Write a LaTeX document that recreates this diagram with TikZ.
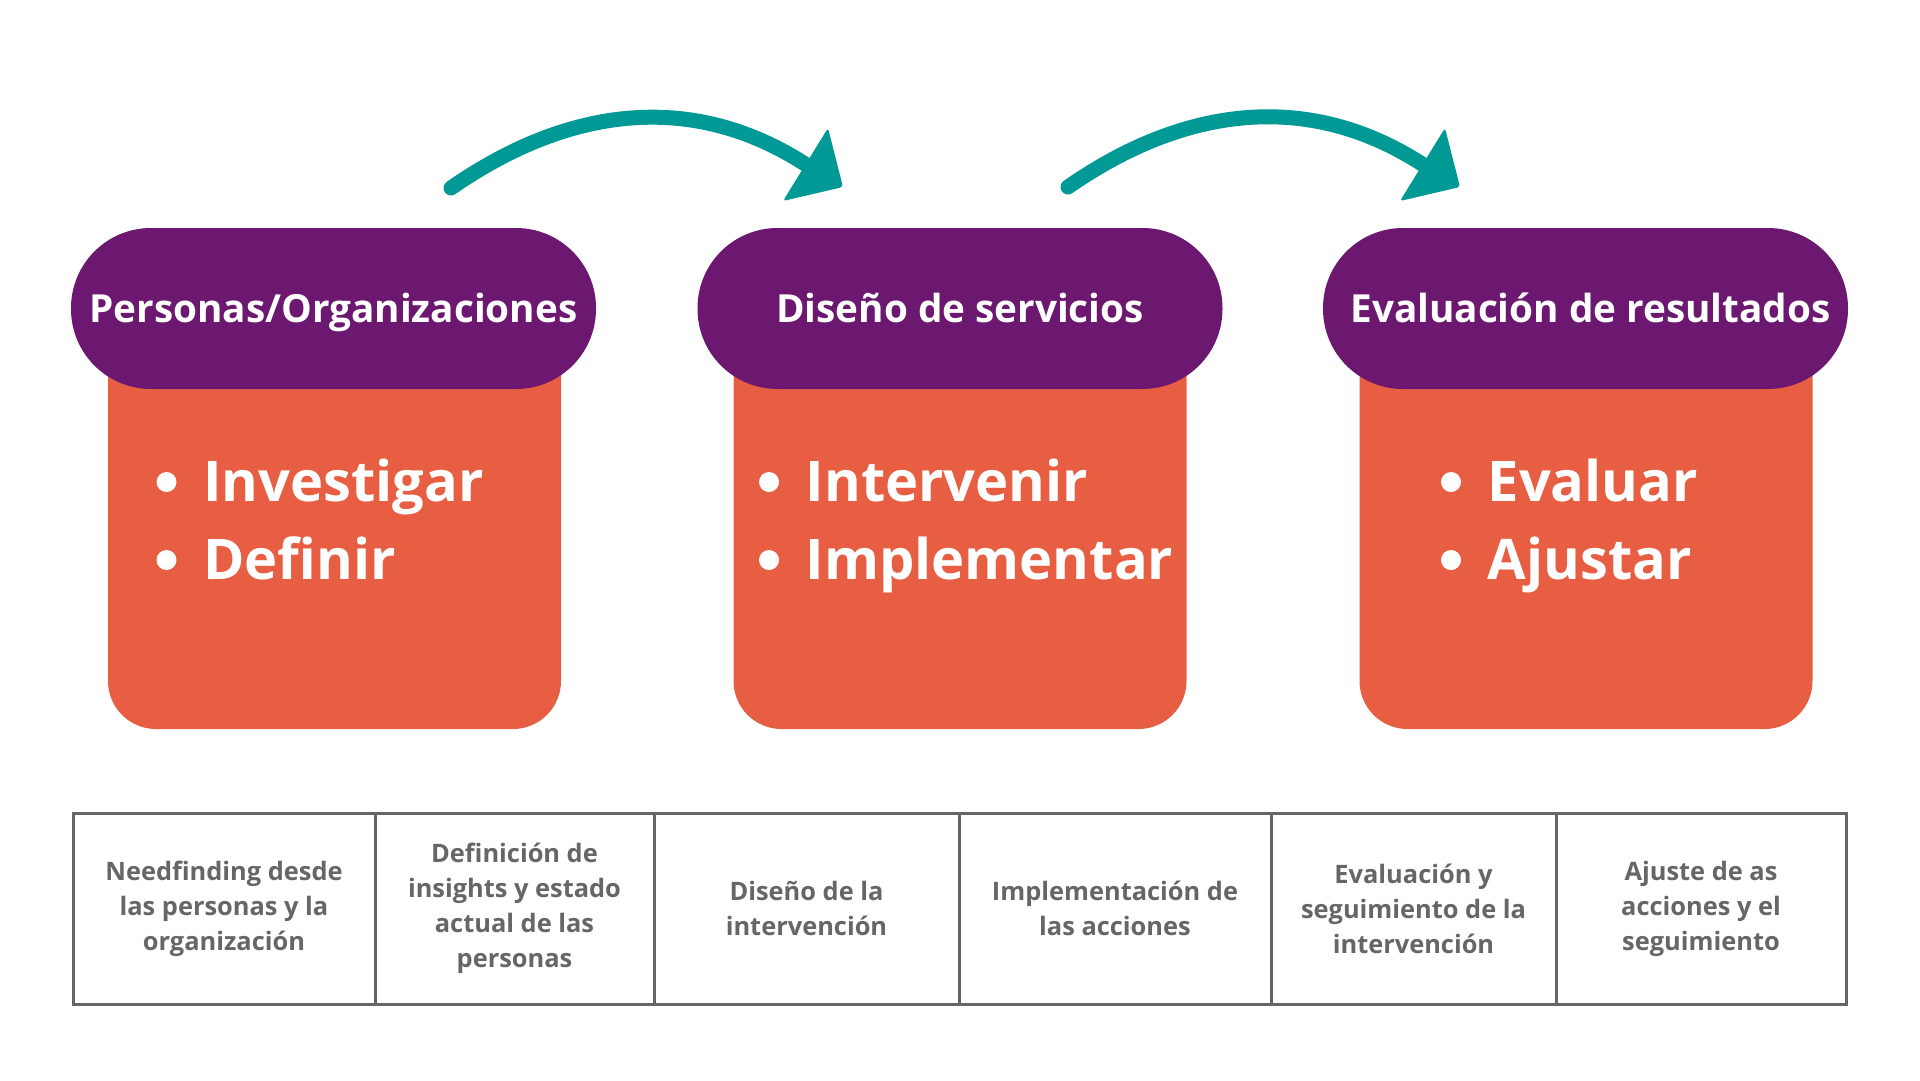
\documentclass[tikz,border=0pt]{standalone}
\usepackage{fontspec}
\setmainfont{Open Sans}
\definecolor{purp}{RGB}{108,23,112}
\definecolor{oran}{RGB}{232,94,66}
\definecolor{tealc}{RGB}{0,153,150}
\definecolor{grayc}{RGB}{102,102,102}
\begin{document}
\begin{tikzpicture}[x=1pt,y=-1pt,
  pill/.style={fill=purp, rounded corners=80pt, minimum width=525pt, minimum height=161pt, inner sep=0pt,
    text height=28pt, text depth=0pt,
    text=white, font=\bfseries\fontsize{38.7}{46}\selectfont},
  obox/.style={fill=oran, rounded corners=48pt, minimum width=453pt, minimum height=429pt, inner sep=0pt},
  bul/.style={text=white, font=\bfseries\fontsize{56}{66}\selectfont, inner sep=0pt, anchor=base west},
  dotc/.style={fill=white},
  cell/.style={draw=grayc, line width=3pt, minimum height=191pt, inner sep=0pt, align=center,
    text=grayc, font=\bfseries\fontsize{25.4}{35}\selectfont},
  arrowline/.style={draw=tealc, line width=15pt, line cap=round},
  arrowtip/.style={fill=tealc, rounded corners=3pt}
]
\useasboundingbox (0,0) rectangle (1920,1080);
\fill[white] (0,0) rectangle (1920,1080);

% orange boxes
\node[obox] (o1) at (334.5,514.5) {};
\node[obox] (o2) at (960,514.5) {};
\node[obox] (o3) at (1586,514.5) {};

% purple pills
\node[pill] (p1) at (333.5,308.5) {Personas/Organizaciones};
\node[pill] (p2) at (960,308.5) {Diseño de servicios};
\node[pill] (p3) at (1585.5,308.5) {\hspace*{10pt}Evaluación de resultados};

% bullets
\fill[dotc] (166.5,482) circle (10pt);
\fill[dotc] (166.5,560) circle (10pt);
\node[bul] (b1a) at (203,501) {Investigar};
\node[bul] (b1b) at (203,579) {Definir};

\fill[dotc] (769,482) circle (10pt);
\fill[dotc] (769,560) circle (10pt);
\node[bul] (b2a) at (805.5,501) {Intervenir};
\node[bul] (b2b) at (805.5,579) {Implementar};

\fill[dotc] (1451,482) circle (10pt);
\fill[dotc] (1451,560) circle (10pt);
\node[bul] (b3a) at (1487.5,501) {Evaluar};
\node[bul] (b3b) at (1487.5,579) {Ajustar};

% arrows
\coordinate (a1s) at (451,188);
\coordinate (a1e) at (805,164);
\draw[arrowline] (a1s) .. controls +(115,-80) and +(-115,-74) .. (a1e);
\fill[arrowtip] (828,128) -- (843,187) -- (783,201) -- cycle;

\coordinate (a2s) at (1068,187);
\coordinate (a2e) at (1422,164);
\draw[arrowline] (a2s) .. controls +(115,-80) and +(-115,-74) .. (a2e);
\fill[arrowtip] (1445,128) -- (1460,187) -- (1400,201) -- cycle;

% table
\node[cell, minimum width=302pt] (c1) at (224,908.5) {Needfinding desde\\las personas y la\\organización};
\node[cell, minimum width=279pt] (c2) at (514.5,908.5) {Definición de\\insights y estado\\actual de las\\personas};
\node[cell, minimum width=305pt] (c3) at (806.5,908.5) {Diseño de la\\intervención};
\node[cell, minimum width=312pt] (c4) at (1115,908.5) {Implementación de\\las acciones};
\node[cell, minimum width=285pt] (c5) at (1413.5,908.5) {Evaluación y\\seguimiento de la\\intervención};
\node[cell, minimum width=290pt] (c6) at (1701,908.5) {Ajuste de as\\acciones y el\\seguimiento};
\end{tikzpicture}
\end{document}
